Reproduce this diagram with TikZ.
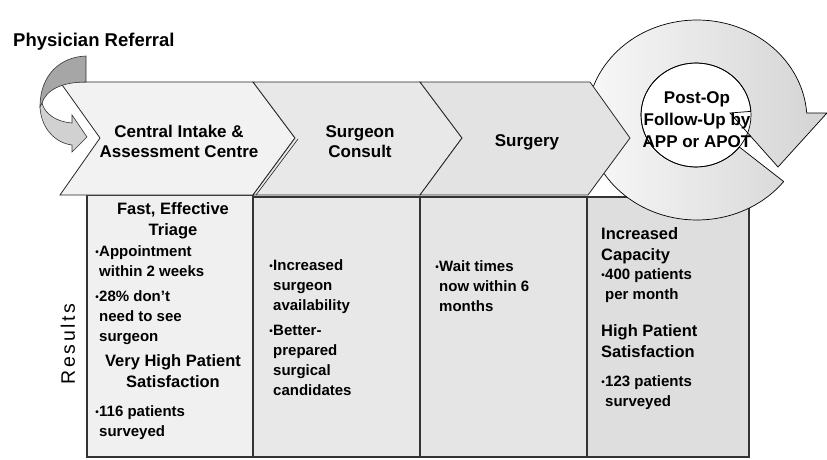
\documentclass[tikz,border=0pt]{standalone}
\usepackage{fontspec}
\usetikzlibrary{calc}
\setmainfont{Liberation Sans}
\newcommand\bul{\makebox[0pt][r]{\fontsize{10}{10}\selectfont\raisebox{1pt}{•}\hspace{0.4pt}}}
\begin{document}
\begin{tikzpicture}[x=1pt,y=-1pt,
  chev/.style={draw=black!85, line width=0.8pt, line join=miter},
  resbox/.style={draw=black!80, line width=1.1pt},
  stage/.style={font=\bfseries\fontsize{17}{20}\selectfont, align=center, inner sep=0pt},
  head/.style={font=\bfseries\fontsize{16.5}{21}\selectfont, align=center, inner sep=0pt},
  bullets/.style={font=\bfseries\fontsize{15}{20}\selectfont, align=left, inner sep=0pt, anchor=north west},
]
\useasboundingbox (0,0) rectangle (827,460);

% result columns
\path[resbox, fill=black!6]  (87,195)  rectangle (253,457);
\path[resbox, fill=black!9]  (253,197) rectangle (420,457);
\path[resbox, fill=black!10] (420,197) rectangle (587,457);
\path[resbox, fill=black!13] (587,197) rectangle (749,457);

% circular follow-up arrow (outer rim centred on co, hole centred on ci)
\coordinate (co) at (697,120);
\coordinate (ci) at (696,115);
\path[shading=axis, left color=black!2, right color=black!17]
  ($(co)+(38:110 and 100)$) arc[start angle=38, end angle=356, x radius=110, y radius=100]
  -- (827,113) -- (778,167) -- (730,113)
  -- ($(ci)+(356:55 and 52)$) arc[start angle=356, end angle=38, x radius=55, y radius=52]
  -- cycle;
\fill[white] (ci) ellipse[x radius=55, y radius=52];
\draw[line width=0.7pt, line join=miter]
  ($(co)+(38:110 and 100)$) arc[start angle=38, end angle=356, x radius=110, y radius=100]
  -- (827,113) -- (778,167) -- (730,113)
  -- ($(ci)+(356:55 and 52)$) arc[start angle=356, end angle=38, x radius=55, y radius=52]
  -- cycle;
\draw[line width=0.7pt] (ci) ellipse[x radius=55, y radius=52];

% process chevrons
\path[chev, fill=black!5]  (60,82) -- (253,82) -- (295,138) -- (253,195) -- (60,195) -- (100,138) -- cycle;
\path[chev, fill=black!9]  (253,82) -- (420,82) -- (462,138) -- (420,195) -- (253,195) -- (295,138) -- cycle;
\draw[black!85, line width=0.6pt] (256,195) -- (298,139);
\path[chev, fill=black!11] (420,82) -- (590,82) -- (630,138) -- (588,195) -- (420,195) -- (462,138) -- cycle;

% referral arrow curling into the first stage
\path[draw=black!80, line width=0.6pt, fill=black!35]
  (86,56) .. controls (60,57) and (40,75) .. (40,107)
  -- (42,103) .. controls (46,90) and (62,82) .. (86,82) -- cycle;
\path[draw=black!80, line width=0.6pt, fill=black!18]
  (40,107) .. controls (41,128) and (55,143) .. (72,145)
  -- (72,152) -- (87,137) -- (72,115) -- (72,123)
  .. controls (58,122) and (45,115) .. (42,103) -- cycle;

% labels
\node[font=\bfseries\fontsize{18.5}{20}\selectfont, anchor=base west, inner sep=0pt] (ref) at (13,47) {Physician Referral};
\node[stage] (s1) at (179,141) {Central Intake \&\\Assessment Centre};
\node[stage] (s2) at (360,142) {Surgeon\\Consult};
\node[stage] (s3) at (527,142) {Surgery};
\node[stage, font=\bfseries\fontsize{17}{22}\selectfont] (s4) at (697,120) {Post-Op\\Follow-Up by\\APP or APOT};

\node[font=\fontsize{19.5}{20}\selectfont\addfontfeature{LetterSpace=14}, rotate=90, inner sep=0pt] (res) at (68,344) {Results};

\node[head, anchor=north] (t1a) at (173,202) {Fast, Effective\\Triage};
\node[bullets] (t1b) at (99,245) {\bul Appointment\\within 2 weeks\\[5pt]\bul 28\% don’t\\need to see\\surgeon};
\node[head, anchor=north] (t1c) at (173,354) {Very High Patient\\Satisfaction};
\node[bullets] (t1d) at (99,405) {\bul 116 patients\\surveyed};

\node[bullets] (t2) at (273,259) {\bul Increased\\surgeon\\availability\\[5pt]\bul Better-\\prepared\\surgical\\candidates};

\node[bullets] (t3) at (439,260) {\bul Wait times\\now within 6\\months};

\node[head, align=left, anchor=north west] (t4a) at (601,227) {Increased\\Capacity};
\node[bullets] (t4b) at (605,268) {\bul 400 patients\\per month};
\node[head, align=left, anchor=north west] (t4c) at (601,324) {High Patient\\Satisfaction};
\node[bullets] (t4d) at (605,375) {\bul 123 patients\\surveyed};
\end{tikzpicture}
\end{document}
